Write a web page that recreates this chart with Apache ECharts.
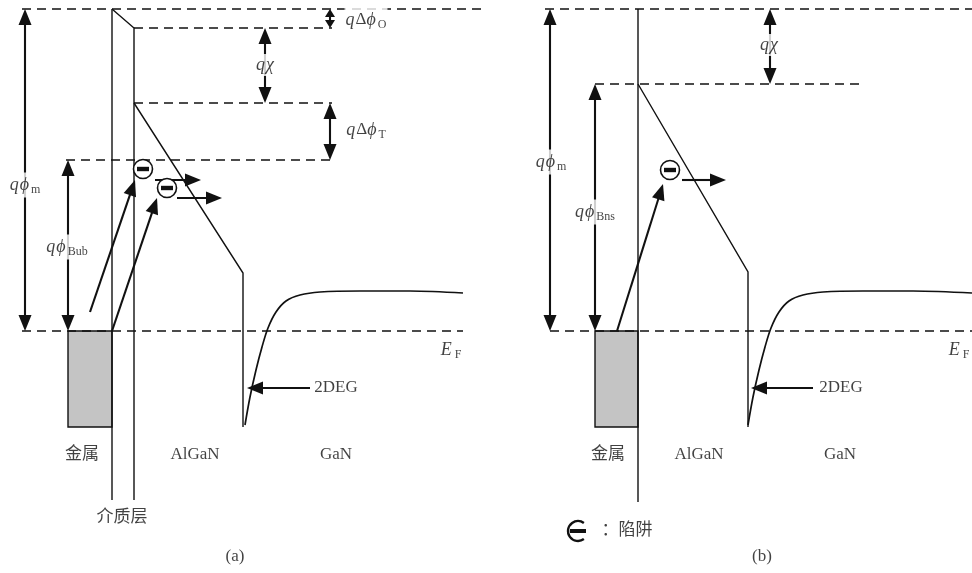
<!DOCTYPE html>
<html>
<head>
<meta charset="utf-8">
<script src="https://cdn.jsdelivr.net/npm/echarts@6/dist/echarts.min.js"></script>
<style>
  html, body { margin: 0; padding: 0; background: #fff; }
  #chart { width: 972px; height: 573px; }
</style>
</head>
<body>
<div id="chart"></div>
<script>
// Band diagrams of a GaN MIS-HEMT gate: (a) with dielectric layer, (b) Schottky gate.
// Coordinates: x = lateral position, y = energy depth below the vacuum level (grows downward).

// ---- (a) dielectric gate ----
const vacuumA    = [[22, 9], [487, 9]];
const levelOxA   = [[134, 28], [332, 28]];
const levelCbA   = [[134, 103], [332, 103]];
const levelTrapA = [[66, 160], [332, 160]];
const fermiA     = [[22, 331], [463, 331]];
const dielLeftA  = [[112, 9], [112, 500]];
const dielTopA   = [[112, 9], [134, 28], [134, 500]];
const algaNCbA   = [[134, 103], [243, 273], [243, 427]];
const ganCbA     = [[245, 425], [250, 397], [256, 370], [262, 347], [268, 328], [276, 312],
                    [286, 301], [300, 295], [320, 292], [360, 291], [410, 291], [463, 293]];
const metalA     = [[68, 331], [112, 427]];

// ---- (b) Schottky gate ----
const vacuumB    = [[545, 9], [972, 9]];
const levelCbB   = [[595, 84], [862, 84]];
const fermiB     = [[550, 331], [972, 331]];
const interfaceB = [[638, 9], [638, 502]];
const algaNCbB   = [[638, 84], [748, 272], [748, 427]];
const ganCbB     = [[748, 425], [753, 397], [759, 370], [765, 347], [771, 328], [779, 312],
                    [789, 301], [803, 295], [823, 292], [863, 291], [913, 291], [972, 293]];
const metalB     = [[595, 331], [638, 427]];

// double-headed dimension arrows: [x1, y1, x2, y2]
const dimArrows = [
  [25, 9, 25, 331],      // q phi_m (a)
  [68, 160, 68, 331],    // q phi_B (a)
  [265, 28, 265, 103],   // q chi (a)
  [330, 103, 330, 160],  // q delta phi_T
  [550, 9, 550, 331],    // q phi_m (b)
  [595, 84, 595, 331],   // q phi_B (b)
  [770, 9, 770, 84]      // q chi (b)
];
const smallDimArrows = [[330, 9, 330, 28]]; // q delta phi_O

// single-headed arrows: tunnelling, emission, 2DEG pointers
const oneArrows = [
  [90, 312, 135, 180],
  [112, 331, 157, 198],
  [155, 180, 201, 180],
  [177, 198, 222, 198],
  [310, 388, 247, 388],
  [617, 331, 663, 184],
  [682, 180, 726, 180],
  [813, 388, 751, 388]
];

// electrons
const electrons = [[143, 169], [167, 188], [670, 170]];

// text labels: [x, y, text]
const symbolLabels = [
  [25, 185, '{q|q}{p|ϕ}{s|m}'],
  [67, 247, '{q|q}{p|ϕ}{s|Bub}'],
  [265, 65, '{q|q}{p|χ}'],
  [366, 20, '{q|q}{n|Δ}{p|ϕ}{s|O}'],
  [366, 130, '{q|q}{n|Δ}{p|ϕ}{s|T}'],
  [551, 162, '{q|q}{p|ϕ}{s|m}'],
  [595, 212, '{q|q}{p|ϕ}{s|Bns}'],
  [769, 45, '{q|q}{p|χ}'],
  [451, 350, '{q|E}{s|F}'],
  [959, 350, '{q|E}{s|F}']
];
const plainLabels = [
  [336, 388, '2DEG'], [841, 388, '2DEG'],
  [82, 455, '金属'], [195, 455, 'AlGaN'], [336, 455, 'GaN'],
  [608, 455, '金属'], [699, 455, 'AlGaN'], [840, 455, 'GaN'],
  [122, 518, '介质层'],
  [235, 557, '(a)'], [762, 557, '(b)'],
  [627, 531, '：陷阱']
];
const legendSymbol = [[578, 531]];

const serif = '"Liberation Serif", "DejaVu Serif", "Noto Sans CJK SC", serif';
const ink = '#111';

const richStyles = {
  q: { fontFamily: serif, fontStyle: 'italic', fontSize: 18, color: ink, padding: [0, 1, 0, 0] },
  p: { fontFamily: serif, fontStyle: 'italic', fontSize: 18, color: ink },
  n: { fontFamily: serif, fontSize: 17, color: ink },
  s: { fontFamily: serif, fontSize: 12, color: ink, padding: [9, 0, 0, 2] }
};

function seg(data, style) {
  return {
    type: 'lines',
    coordinateSystem: 'cartesian2d',
    polyline: true,
    silent: true,
    symbol: 'none',
    lineStyle: Object.assign({ color: ink, width: 1.4, opacity: 1 }, style),
    data: data.map(c => ({ coords: c }))
  };
}

function curve(points) {
  return {
    type: 'line',
    silent: true,
    smooth: 0.35,
    symbol: 'none',
    lineStyle: { color: ink, width: 1.7 },
    data: points
  };
}

function boxSeries(box) {
  return {
    type: 'custom',
    silent: true,
    data: [[box[0][0], box[0][1], box[1][0], box[1][1]]],
    renderItem: function (params, api) {
      const p0 = api.coord([api.value(0), api.value(1)]);
      const p1 = api.coord([api.value(2), api.value(3)]);
      return {
        type: 'rect',
        shape: { x: p0[0], y: p0[1], width: p1[0] - p0[0], height: p1[1] - p0[1] },
        style: { fill: '#c4c4c4', stroke: ink, lineWidth: 1.4 }
      };
    }
  };
}

// Arrow with filled triangular heads whose tips sit exactly on the end points.
function arrowSeries(data, both, headLen, headHalf) {
  return {
    type: 'custom',
    silent: true,
    data: data,
    renderItem: function (params, api) {
      const a = api.coord([api.value(0), api.value(1)]);
      const b = api.coord([api.value(2), api.value(3)]);
      const dx = b[0] - a[0], dy = b[1] - a[1];
      const len = Math.sqrt(dx * dx + dy * dy);
      const ux = dx / len, uy = dy / len, nx = -uy, ny = ux;
      function head(tip, dir) {
        const bx = tip[0] - dir * ux * headLen, by = tip[1] - dir * uy * headLen;
        return {
          type: 'polygon',
          shape: { points: [tip, [bx + nx * headHalf, by + ny * headHalf], [bx - nx * headHalf, by - ny * headHalf]] },
          style: { fill: ink }
        };
      }
      const s = both ? [a[0] + ux * headLen * 0.8, a[1] + uy * headLen * 0.8] : a;
      const e = [b[0] - ux * headLen * 0.8, b[1] - uy * headLen * 0.8];
      const children = [
        { type: 'line', shape: { x1: s[0], y1: s[1], x2: e[0], y2: e[1] }, style: { stroke: ink, lineWidth: 2.1 } },
        head(b, 1)
      ];
      if (both) children.push(head(a, -1));
      return { type: 'group', children: children };
    }
  };
}

const dash = { type: [9, 6], width: 1.7 };

const option = {
  animation: false,
  backgroundColor: '#fff',
  grid: { left: 0, right: 0, top: 0, bottom: 0 },
  xAxis: { type: 'value', min: 0, max: 972, show: false },
  yAxis: { type: 'value', min: 0, max: 573, inverse: true, show: false },
  series: [
    boxSeries(metalA),
    boxSeries(metalB),
    seg([vacuumA, levelOxA, levelCbA, levelTrapA, fermiA, vacuumB, levelCbB, fermiB], dash),
    seg([dielLeftA, dielTopA, algaNCbA, interfaceB, algaNCbB], {}),
    curve(ganCbA),
    curve(ganCbB),
    arrowSeries(dimArrows, true, 16, 6.5),
    arrowSeries(smallDimArrows, true, 8, 5),
    arrowSeries(oneArrows, false, 16, 6.5),
    {
      type: 'custom',
      silent: true,
      data: electrons,
      renderItem: function (params, api) {
        const c = api.coord([api.value(0), api.value(1)]);
        return {
          type: 'group',
          children: [
            { type: 'circle', shape: { cx: c[0], cy: c[1], r: 9.5 }, style: { fill: '#fff', stroke: ink, lineWidth: 1.6 } },
            { type: 'rect', shape: { x: c[0] - 6, y: c[1] - 2.2, width: 12, height: 4.4 }, style: { fill: ink } }
          ]
        };
      }
    },
    {
      type: 'custom',
      silent: true,
      data: legendSymbol,
      renderItem: function (params, api) {
        const c = api.coord([api.value(0), api.value(1)]);
        return {
          type: 'group',
          children: [
            { type: 'arc', shape: { cx: c[0], cy: c[1], r: 10, startAngle: Math.PI * 0.3, endAngle: Math.PI * 1.7, clockwise: true }, style: { fill: null, stroke: ink, lineWidth: 2.4 } },
            { type: 'rect', shape: { x: c[0] - 8, y: c[1] - 2, width: 16, height: 4 }, style: { fill: ink } }
          ]
        };
      }
    },
    {
      type: 'scatter',
      silent: true,
      symbolSize: 0,
      data: symbolLabels.map(l => ({ value: [l[0], l[1]], name: l[2] })),
      label: {
        show: true,
        position: 'inside',
        formatter: p => p.name,
        backgroundColor: '#fff',
        padding: [2, 1],
        rich: richStyles
      }
    },
    {
      type: 'scatter',
      silent: true,
      symbolSize: 0,
      data: plainLabels.map(l => ({ value: [l[0], l[1]], name: l[2] })),
      label: {
        show: true,
        position: 'inside',
        formatter: p => p.name,
        fontFamily: serif,
        fontSize: 17,
        color: ink,
        backgroundColor: '#fff',
        padding: [1, 2]
      }
    }
  ]
};

const chart = echarts.init(document.getElementById('chart'), null, { renderer: 'canvas' });
chart.setOption(option);
</script>
</body>
</html>
